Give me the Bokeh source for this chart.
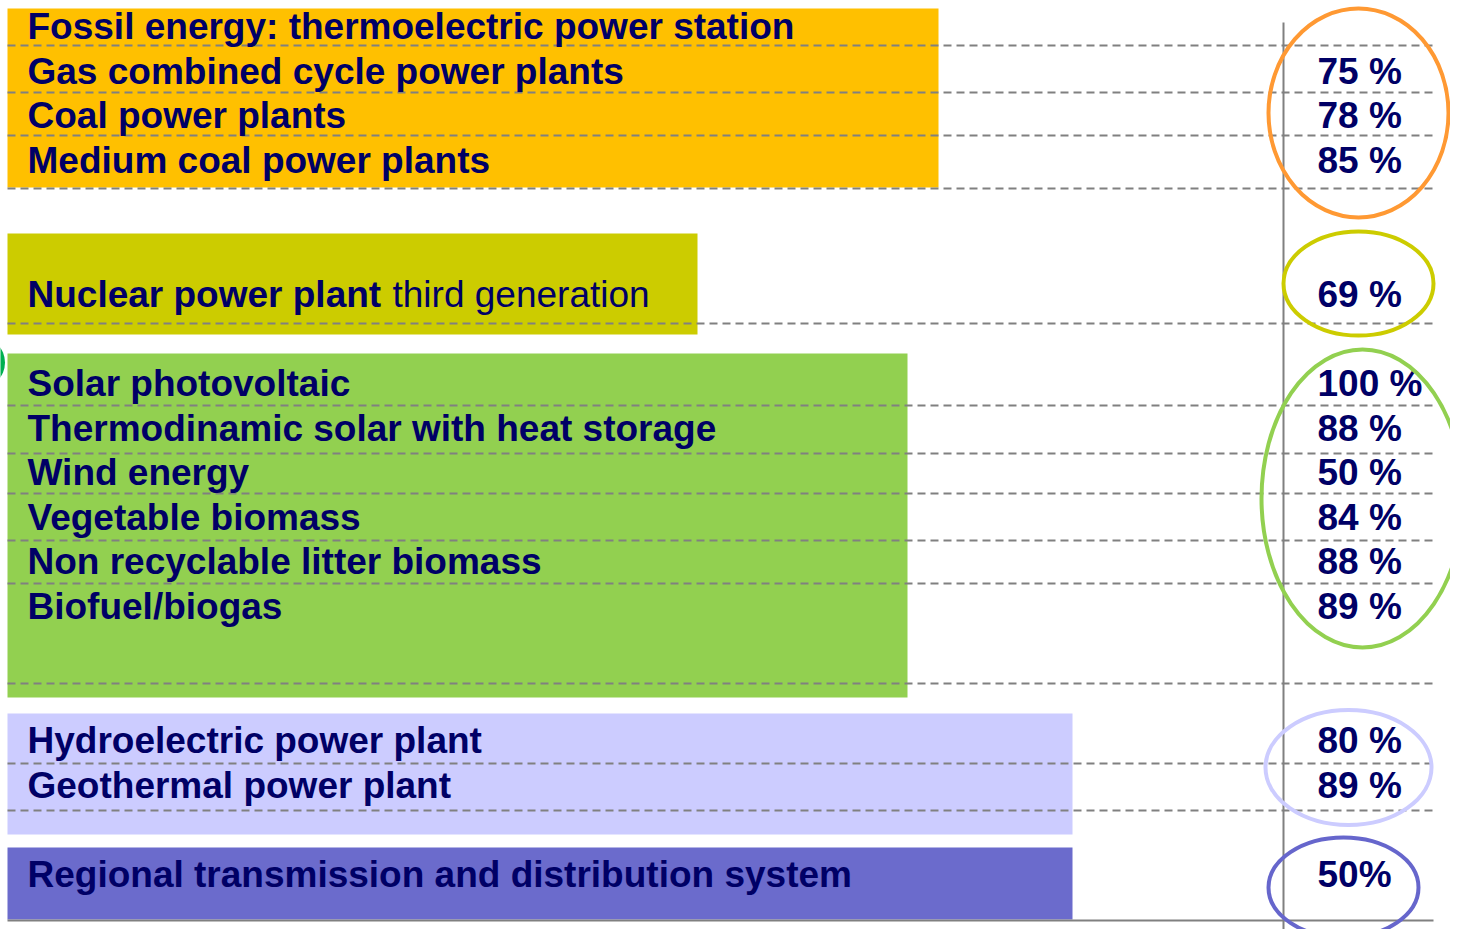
from bokeh.plotting import figure
from bokeh.models import Range1d, ColumnDataSource
from bokeh.core.properties import value
from bokeh.embed import file_html
from bokeh.resources import INLINE

# ---------------- data ----------------
fossil_header = "Fossil energy: thermoelectric power station"
fossil_labels = ["Gas combined cycle power plants", "Coal power plants", "Medium coal power plants"]
fossil_values = [75, 78, 85]

nuclear_bold = "Nuclear power plant"
nuclear_rest = "third generation"
nuclear_values = [69]

renew_labels = ["Solar photovoltaic", "Thermodinamic solar  with heat storage", "Wind energy",
                "Vegetable biomass", "Non recyclable litter biomass", "Biofuel/biogas"]
renew_values = [100, 88, 50, 84, 88, 89]

hydro_labels = ["Hydroelectric power plant", "Geothermal power plant"]
hydro_values = [80, 89]

grid_labels = ["Regional transmission and distribution system"]
grid_values = [50]

# ---------------- styles / layout ----------------
TXT = "#000066"
FONT = "Liberation Sans"
FS = "37px"
PITCH = 44.6
LABEL_X = 27
PCT_X = 1317
DY = -13  # baseline -> visual centre of capitals

W, H = 1450, 929
p = figure(width=W, height=H, output_backend="svg", toolbar_location=None,
           x_range=Range1d(0, W), y_range=Range1d(H, 0),
           x_axis_location=None, y_axis_location=None, min_border=0,
           background_fill_color="white", border_fill_color="white")
p.grid.visible = False
p.outline_line_color = None

# group boxes
boxes = dict(left=[7, 7, 7, 7, 7], right=[938, 697, 907, 1072, 1072],
             top=[8, 233, 353, 713, 847], bottom=[187, 334, 697, 834, 919],
             color=["#FFC000", "#CCCC00", "#92D050", "#CCCCFF", "#6B6BCC"])
p.quad(source=ColumnDataSource(boxes), left="left", right="right", top="top",
       bottom="bottom", fill_color="color", line_color=None)

# small decorative mark at the left edge
p.circle(x=[-21.5], y=[362], radius=26, fill_color="#00B050", line_color=None)

# dashed row separators
sep_y = [45, 92, 135, 188, 323, 405, 453, 493, 540, 583, 683, 763, 810]
p.segment(x0=[7] * len(sep_y), x1=[1433] * len(sep_y), y0=sep_y, y1=sep_y,
          line_color="#808080", line_width=2, line_dash="8 5")
# axis-like lines
p.segment(x0=[1283], x1=[1283], y0=[22], y1=[940], line_color="#808080", line_width=2)
p.segment(x0=[7], x1=[1433], y0=[920], y1=[920], line_color="#808080", line_width=2)

# rows
rows_lbl, rows_y, pct_lbl, pct_y = [], [], [], []
rows_lbl.append(fossil_header); rows_y.append(39)
for i, (l, v) in enumerate(zip(fossil_labels, fossil_values)):
    y = 39 + (i + 1) * PITCH
    rows_lbl.append(l); rows_y.append(y); pct_lbl.append(f"{v} %"); pct_y.append(y)
for v in nuclear_values:
    pct_lbl.append(f"{v} %"); pct_y.append(307)
for i, (l, v) in enumerate(zip(renew_labels, renew_values)):
    y = 396 + i * PITCH
    rows_lbl.append(l); rows_y.append(y); pct_lbl.append(f"{v} %"); pct_y.append(y)
for i, (l, v) in enumerate(zip(hydro_labels, hydro_values)):
    y = 753 + i * 45
    rows_lbl.append(l); rows_y.append(y); pct_lbl.append(f"{v} %"); pct_y.append(y)
for l, v in zip(grid_labels, grid_values):
    rows_lbl.append(l); rows_y.append(887); pct_lbl.append(f"{v}%"); pct_y.append(887)

rows_y = [y + DY for y in rows_y]
pct_y = [y + DY for y in pct_y]

common = dict(text_color=TXT, text_font=value(FONT), text_font_size=FS,
              text_baseline="alphabetic", text_align="left")
p.text(x=[LABEL_X] * len(rows_lbl), y=rows_y, text=rows_lbl, text_font_style="bold", **common)
p.text(x=[LABEL_X], y=[307 + DY], text=[nuclear_bold], text_font_style="bold", **common)
p.text(x=[392], y=[307 + DY], text=[nuclear_rest], text_font_style="normal", **common)
p.text(x=[PCT_X] * len(pct_lbl), y=pct_y, text=pct_lbl, text_font_style="bold", **common)

# group ellipses
ell = dict(x=[1358, 1358, 1362, 1348, 1343], y=[112.5, 283, 498, 767, 887],
           w=[180, 150, 202, 166, 150], h=[209, 104, 298, 115, 100],
           color=["#FF9933", "#CCCC00", "#92D050", "#CCCCFF", "#6666CC"])
p.ellipse(source=ColumnDataSource(ell), x="x", y="y", width="w", height="h",
          fill_color=None, line_color="color", line_width=4)

open("out.html", "w").write(file_html(p, INLINE))
